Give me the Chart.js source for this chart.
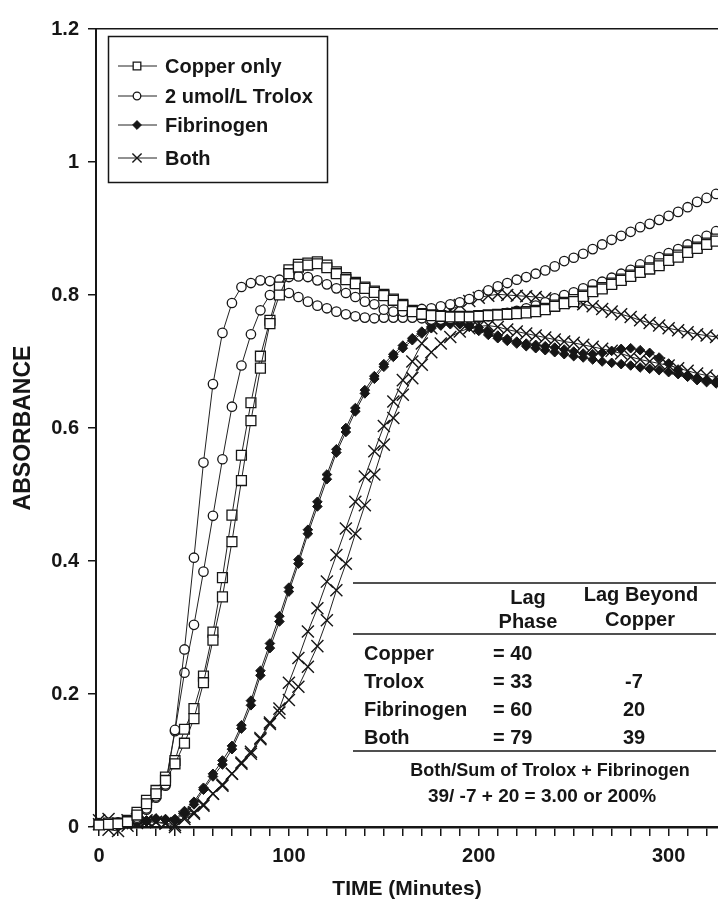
<!DOCTYPE html>
<html>
<head>
<meta charset="utf-8">
<script src="https://cdn.jsdelivr.net/npm/chart.js@4.4.1/dist/chart.umd.min.js"></script>
<style>
  html, body { margin: 0; padding: 0; background: #fff; }
</style>
</head>
<body>
<canvas id="myChart" width="718" height="903"></canvas>
<script>
// time axis, one reading every 5 minutes
var minutes = [0,5,10,15,20,25,30,35,40,45,50,55,60,65,70,75,80,85,90,95,
  100,105,110,115,120,125,130,135,140,145,150,155,160,165,170,175,180,185,190,195,
  200,205,210,215,220,225,230,235,240,245,250,255,260,265,270,275,280,285,290,295,
  300,305,310,315,320,325];

// copper only, two runs (squares)
var copperA = [0.003,0.004,0.005,0.008,0.018,0.035,0.050,0.070,0.095,0.126,0.163,0.217,0.281,0.346,0.429,0.521,0.611,0.690,0.757,0.800,
  0.832,0.842,0.845,0.847,0.841,0.832,0.823,0.817,0.810,0.804,0.799,0.792,0.784,0.775,0.771,0.769,0.768,0.767,0.767,0.767,
  0.768,0.769,0.770,0.771,0.772,0.773,0.775,0.778,0.783,0.787,0.790,0.798,0.805,0.809,0.816,0.822,0.828,0.834,0.839,0.844,
  0.852,0.857,0.864,0.870,0.876,0.881];
var copperB = [0.004,0.006,0.006,0.010,0.022,0.040,0.055,0.075,0.100,0.147,0.178,0.227,0.293,0.375,0.469,0.559,0.638,0.708,0.762,0.812,
  0.838,0.846,0.848,0.850,0.845,0.835,0.826,0.819,0.812,0.806,0.801,0.794,0.786,0.777,0.772,0.770,0.769,0.768,0.768,0.768,
  0.769,0.770,0.771,0.772,0.774,0.775,0.777,0.780,0.785,0.789,0.793,0.800,0.806,0.811,0.818,0.824,0.830,0.836,0.841,0.847,
  0.854,0.860,0.866,0.872,0.878,0.884];

// 2 umol/L trolox (circles)
var troloxA = [0.006,0.005,0.007,0.009,0.014,0.028,0.046,0.064,0.146,0.267,0.405,0.548,0.666,0.743,0.788,0.812,0.818,0.822,0.821,0.823,
  0.827,0.828,0.827,0.822,0.816,0.810,0.803,0.797,0.790,0.786,0.778,0.775,0.775,0.777,0.779,0.780,0.783,0.786,0.789,0.794,
  0.800,0.807,0.813,0.818,0.823,0.827,0.832,0.837,0.843,0.851,0.856,0.862,0.869,0.876,0.883,0.889,0.895,0.902,0.907,0.913,
  0.919,0.925,0.932,0.940,0.946,0.952];
var troloxB = [0.004,0.006,0.005,0.008,0.012,0.026,0.044,0.062,0.144,0.232,0.304,0.384,0.468,0.553,0.632,0.694,0.741,0.777,0.800,0.805,
  0.803,0.797,0.790,0.784,0.780,0.775,0.771,0.768,0.766,0.765,0.766,0.766,0.766,0.766,0.765,0.763,0.763,0.764,0.765,0.765,
  0.766,0.768,0.770,0.773,0.776,0.780,0.784,0.789,0.795,0.800,0.804,0.810,0.816,0.820,0.826,0.832,0.838,0.846,0.852,0.857,
  0.863,0.869,0.876,0.883,0.889,0.896];

// fibrinogen (filled diamonds)
var fibA = [0.004,0.003,0.005,0.004,0.006,0.008,0.012,0.012,0.010,0.021,0.034,0.056,0.076,0.094,0.117,0.148,0.183,0.228,0.269,0.309,
  0.354,0.396,0.441,0.482,0.523,0.563,0.594,0.625,0.652,0.674,0.692,0.707,0.720,0.732,0.742,0.750,0.754,0.756,0.757,0.755,
  0.751,0.745,0.739,0.734,0.730,0.727,0.725,0.723,0.721,0.718,0.715,0.712,0.711,0.713,0.716,0.719,0.720,0.717,0.713,0.706,
  0.697,0.688,0.677,0.672,0.669,0.667];
var fibB = [0.006,0.005,0.003,0.006,0.008,0.010,0.013,0.011,0.012,0.024,0.038,0.059,0.080,0.100,0.122,0.153,0.190,0.235,0.276,0.317,
  0.360,0.402,0.447,0.489,0.530,0.568,0.600,0.630,0.657,0.678,0.696,0.711,0.724,0.735,0.745,0.752,0.756,0.758,0.756,0.752,
  0.746,0.740,0.735,0.731,0.727,0.723,0.720,0.717,0.714,0.711,0.708,0.706,0.703,0.700,0.698,0.696,0.694,0.691,0.689,0.687,
  0.684,0.681,0.678,0.675,0.672,0.670];

// both (crosses)
var bothA = [0.010,0.012,0.005,0.010,0.012,0.010,0.008,0.006,0.003,0.015,0.022,0.034,0.050,0.064,0.080,0.097,0.113,0.134,0.157,0.178,
  0.217,0.254,0.294,0.329,0.369,0.409,0.449,0.489,0.527,0.565,0.603,0.640,0.672,0.700,0.727,0.750,0.765,0.777,0.785,0.791,
  0.796,0.799,0.801,0.800,0.799,0.798,0.797,0.795,0.793,0.790,0.788,0.786,0.783,0.779,0.775,0.771,0.767,0.762,0.758,0.754,
  0.750,0.747,0.744,0.741,0.739,0.737];
var bothB = [0.004,-0.004,-0.006,0.002,0.006,0.008,0.007,0.005,0.000,0.012,0.020,0.032,0.050,0.062,0.080,0.095,0.110,0.132,0.155,0.172,
  0.191,0.211,0.241,0.272,0.311,0.356,0.396,0.441,0.484,0.530,0.575,0.615,0.650,0.675,0.695,0.714,0.727,0.737,0.745,0.750,
  0.753,0.754,0.752,0.748,0.745,0.742,0.739,0.736,0.733,0.730,0.728,0.725,0.722,0.719,0.716,0.712,0.707,0.703,0.700,0.697,
  0.694,0.690,0.686,0.682,0.679,0.676];

// inset table
var tableRows = ["Copper", "Trolox", "Fibrinogen", "Both"];
var lagPhase = ["= 40", "= 33", "= 60", "= 79"];
var lagBeyond = ["", "-7", "20", "39"];
var tableNote = ["Both/Sum of Trolox + Fibrinogen", "39/ -7 + 20 = 3.00 or 200%"];

var FONT = '"Liberation Sans", Arial, Helvetica, sans-serif';
var INK = "#161616";
Chart.defaults.font.family = FONT;
Chart.defaults.color = INK;

function points(values) {
  return minutes.map(function(m, i) { return {x: m, y: values[i]}; });
}

var squareStyle = {pointStyle: "rect", pointRadius: 7, legendRadius: 5.4, pointBackgroundColor: "#fff", pointBorderColor: INK, pointBorderWidth: 1.3};
var circleStyle = {pointStyle: "circle", pointRadius: 4.7, legendRadius: 3.8, pointBackgroundColor: "#fff", pointBorderColor: INK, pointBorderWidth: 1.3};
var diamondStyle = {pointStyle: "rectRot", pointRadius: 4.8, legendRadius: 4.4, pointBackgroundColor: INK, pointBorderColor: INK, pointBorderWidth: 1};
var crossStyle = {pointStyle: "crossRot", pointRadius: 8.5, legendRadius: 6.5, pointBackgroundColor: INK, pointBorderColor: INK, pointBorderWidth: 1.4};

function series(label, values, style, inLegend) {
  return Object.assign({
    label: label,
    data: points(values),
    borderColor: "#222",
    borderWidth: 1,
    tension: 0,
    fill: false,
    clip: false,
    pointHoverRadius: 0,
    inLegend: inLegend
  }, style);
}

var datasets = [
  series("Copper only", copperA, squareStyle, true),
  series("Copper only", copperB, squareStyle, false),
  series("2 umol/L Trolox", troloxA, circleStyle, true),
  series("2 umol/L Trolox", troloxB, circleStyle, false),
  series("Fibrinogen", fibA, diamondStyle, true),
  series("Fibrinogen", fibB, diamondStyle, false),
  series("Both", bothA, crossStyle, true),
  series("Both", bothB, crossStyle, false)
];

// legend box drawn inside the plot, top left
var legendRows = [66, 96, 125, 158];
var insetLegend = {
  id: "insetLegend",
  afterDraw: function(chart) {
    var ctx = chart.ctx;
    ctx.save();
    ctx.lineWidth = 1.5;
    ctx.strokeStyle = INK;
    ctx.strokeRect(108.5, 36.5, 219, 146);
    var items = chart.data.datasets.filter(function(d) { return d.inLegend; });
    items.forEach(function(d, i) {
      var y = legendRows[i];
      ctx.beginPath();
      ctx.lineWidth = 1;
      ctx.strokeStyle = "#222";
      ctx.moveTo(118, y);
      ctx.lineTo(157, y);
      ctx.stroke();
      ctx.fillStyle = d.pointBackgroundColor;
      ctx.strokeStyle = d.pointBorderColor;
      ctx.lineWidth = d.pointBorderWidth;
      Chart.helpers.drawPoint(ctx, {pointStyle: d.pointStyle, radius: d.legendRadius, borderWidth: d.pointBorderWidth, rotation: 0}, 137, y);
      ctx.fillStyle = INK;
      ctx.font = "bold 20px " + FONT;
      ctx.textAlign = "left";
      ctx.textBaseline = "middle";
      ctx.fillText(d.label, 165, y + 1);
    });
    ctx.restore();
  }
};

// lag phase table, bottom right
var lagTable = {
  id: "lagTable",
  afterDraw: function(chart) {
    var ctx = chart.ctx;
    ctx.save();
    ctx.strokeStyle = INK;
    ctx.lineWidth = 1.5;
    [583, 634, 751].forEach(function(y) {
      ctx.beginPath();
      ctx.moveTo(353, y);
      ctx.lineTo(716, y);
      ctx.stroke();
    });
    ctx.fillStyle = INK;
    ctx.textBaseline = "middle";
    ctx.font = "bold 20px " + FONT;
    ctx.textAlign = "center";
    ctx.fillText("Lag", 528, 598);
    ctx.fillText("Phase", 528, 622);
    ctx.fillText("Lag Beyond", 641, 595);
    ctx.fillText("Copper", 640, 620);
    tableRows.forEach(function(name, i) {
      var y = 654 + i * 28;
      ctx.textAlign = "left";
      ctx.fillText(name, 364, y);
      ctx.fillText(lagPhase[i], 493, y);
      ctx.textAlign = "center";
      ctx.fillText(lagBeyond[i], 634, y);
    });
    ctx.font = "bold 18px " + FONT;
    ctx.fillText(tableNote[0], 550, 771);
    ctx.font = "bold 19px " + FONT;
    ctx.fillText(tableNote[1], 542, 797);
    ctx.restore();
  }
};

function noSidePadding(axis) {
  axis.paddingLeft = 0;
  axis.paddingRight = 0;
}

var ctx = document.getElementById("myChart").getContext("2d");
var chart = new Chart(ctx, {
  type: "line",
  data: {datasets: datasets},
  plugins: [insetLegend, lagTable],
  options: {
    responsive: false,
    animation: false,
    devicePixelRatio: 1,
    layout: {padding: 0, autoPadding: false},
    plugins: {legend: {display: false}, tooltip: {enabled: false}},
    scales: {
      x: {
        type: "linear",
        position: "bottom",
        min: -1.6,
        max: 326,
        afterBuildTicks: function(axis) {
          var list = [];
          for (var v = 0; v <= axis.max; v += 10) list.push({value: v});
          axis.ticks = list;
        },
        afterFit: function(axis) { axis.height = 76; noSidePadding(axis); },
        ticks: {
          autoSkip: false,
          maxRotation: 0,
          padding: 8,
          color: INK,
          font: {size: 20, weight: "bold"},
          callback: function(v) { return v % 100 === 0 ? String(v) : ""; }
        },
        grid: {display: true, drawOnChartArea: false, drawTicks: true, tickLength: 9, color: INK, lineWidth: 1.5},
        border: {display: true, color: INK, width: 2.5},
        title: {display: true, text: "TIME (Minutes)", color: INK, font: {size: 21, weight: "bold"}, padding: {top: 0, bottom: 1}}
      },
      x2: {
        type: "linear",
        position: "top",
        min: -1.6,
        max: 326,
        afterFit: function(axis) { axis.height = 29; noSidePadding(axis); },
        ticks: {display: false},
        grid: {display: false, drawTicks: false},
        border: {display: true, color: INK, width: 1.5}
      },
      y: {
        min: 0,
        max: 1.2,
        afterFit: function(axis) { axis.width = 96; axis.paddingTop = 0; axis.paddingBottom = 0; },
        ticks: {
          stepSize: 0.2,
          padding: 9,
          color: INK,
          font: {size: 20, weight: "bold"},
          callback: function(v) { return String(+v.toFixed(1)); }
        },
        grid: {display: true, drawOnChartArea: false, drawTicks: true, tickLength: 8, color: INK, lineWidth: 1.5},
        border: {display: true, color: INK, width: 2},
        title: {display: true, text: "ABSORBANCE", color: INK, font: {size: 23, weight: "bold"}, padding: {top: 10, bottom: 0}}
      }
    }
  }
});
</script>
</body>
</html>
